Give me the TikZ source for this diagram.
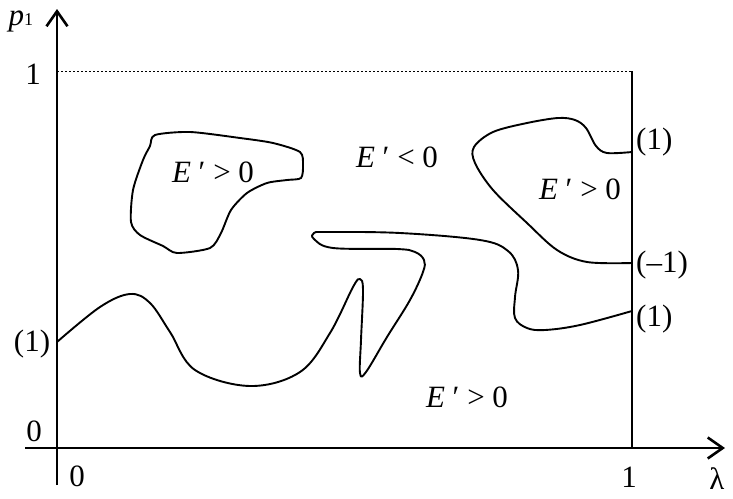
\documentclass[tikz,border=0pt]{standalone}
\usepackage{fontspec}
\setmainfont{Liberation Serif}
\usetikzlibrary{arrows.meta}
\begin{document}
\begin{tikzpicture}[x=1pt,y=-1pt,
  lab/.style={inner sep=0pt,font=\fontsize{31}{36}\selectfont},
  axis/.style={line width=2.8pt,-{Straight Barb[length=15pt,width=21pt,line width=2.6pt]}},
  curve/.style={line width=1.9pt,line join=round},
  frame/.style={line width=2pt}]
\useasboundingbox (0,0) rectangle (733,498);
% axes
\coordinate (xs) at (25,448);
\coordinate (xe) at (725,448);
\coordinate (ys) at (57,485);
\coordinate (ye) at (57,9);
\coordinate (tl) at (57,71);
\coordinate (tr) at (632,71);
\coordinate (br) at (632,448);
\draw[axis] (xs) -- (xe);
\draw[axis] (ys) -- (ye);
\draw[frame] (tr) -- (br);
\draw[dash pattern=on 2pt off 2pt,line width=0.8pt] (tl) -- (tr);
% labels
\node[lab] (p1) at (21,21) {\textit{p}{\fontsize{18}{18}\selectfont 1}};
\node[lab] (one) at (33,74) {1};
\node[lab] (zeroy) at (34,431) {0};
\node[lab] (onel) at (32,344) {(1)};
\node[lab] (zerox) at (77,476) {0};
\node[lab] (onex) at (629,477) {1};
\node[lab,anchor=base] (lam) at (717,489) {λ};
\node[lab,anchor=west] (r1) at (636,142) {(1)};
\node[lab,anchor=west] (r2) at (636,265) {(–1)};
\node[lab,anchor=west] (r3) at (636,319) {(1)};
\node[lab] (e1) at (213,172) {\textit{E} ′ > 0};
\node[lab] (e2) at (397,157) {\textit{E} ′ < 0};
\node[lab] (e3) at (580,189) {\textit{E} ′ > 0};
\node[lab] (e4) at (467,397) {\textit{E} ′ > 0};
% blob
\draw[curve] plot[smooth cycle,tension=0.45] coordinates {
 (155,135) (190,132) (240,138) (273,143) (300,152) (303,165) (301,178)
 (287,180) (267,183) (247,193) (231,210) (221,233) (210,248) (177,253)
 (163,246) (140,235) (131,222) (133,190) (143,160) (150,146)};
% long bottom curve
\draw[curve] plot[smooth,tension=0.6] coordinates {
 (57,342) (100,307) (130,294) (150,303) (170,332) (195,370)
 (250,386) (300,372) (330,333) (353,287) (360,279)
 (363,290) (361,340) (360,373) (366,372) (387,337) (410,300) (423,272)
 (424,260) (415,252) (397,249) (333,248) (314,239) (314,233) (327,232)
 (400,233) (480,240) (508,251) (518,270) (515,297) (515,318) (527,328)
 (545,330) (580,325) (632,311)};
% top right curve
\draw[curve] plot[smooth,tension=0.55] coordinates {
 (632,152) (607,153) (596,146) (586,128) (575,120) (558,118) (527,123)
 (493,132) (474,147) (475,163) (493,190) (527,223) (557,250) (587,262) (632,263)};
\end{tikzpicture}
\end{document}
